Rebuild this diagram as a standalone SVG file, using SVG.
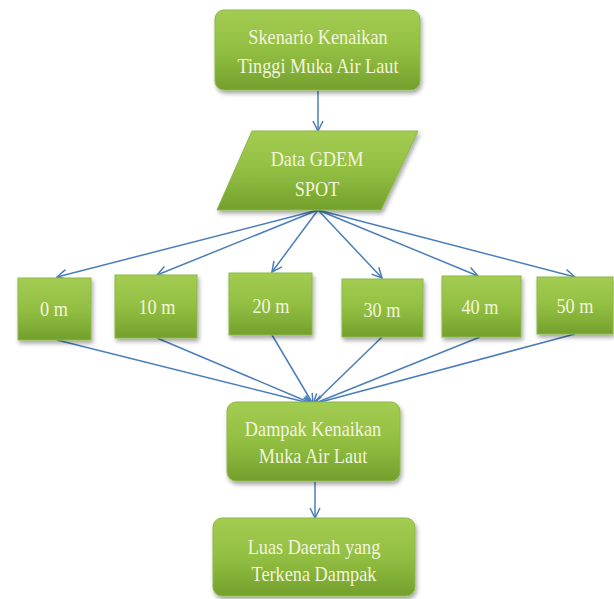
<svg xmlns="http://www.w3.org/2000/svg" width="614" height="599" viewBox="0 0 614 599">
<style>
.box{fill:url(#g);stroke:#8cb846;stroke-width:1;filter:url(#sh)}
.t{fill:#f4f4dc;text-anchor:middle}
.c{stroke:#4a7ebb;stroke-width:1.5;fill:none;marker-end:url(#ah)}
</style>
<defs>
<linearGradient id="g" x1="0" y1="0" x2="0" y2="1">
<stop offset="0" stop-color="#a3cc52"/>
<stop offset="0.5" stop-color="#92bf42"/>
<stop offset="1" stop-color="#73a02c"/>
</linearGradient>
<filter id="sh" x="-10%" y="-10%" width="125%" height="130%">
<feDropShadow dx="1.5" dy="3" stdDeviation="2" flood-color="#000" flood-opacity="0.35"/>
</filter>
<marker id="ah" viewBox="0 0 12 12" refX="11" refY="6" markerWidth="12" markerHeight="12" markerUnits="userSpaceOnUse" orient="auto">
<path d="M1,1 L11,6 L1,11" fill="none" stroke="#4a7ebb" stroke-width="1.5"/>
</marker>
</defs>
<rect width="614" height="599" fill="#fff"/>
<g id="connectors">
<line class="c" x1="318" y1="91" x2="318" y2="131"/>
<line class="c" x1="318" y1="210" x2="57" y2="277"/>
<line class="c" x1="318" y1="210" x2="157" y2="275"/>
<line class="c" x1="318" y1="210" x2="272" y2="272"/>
<line class="c" x1="318" y1="210" x2="382" y2="278"/>
<line class="c" x1="318" y1="210" x2="478" y2="276"/>
<line class="c" x1="318" y1="210" x2="575" y2="277"/>
<line class="c" x1="57" y1="340" x2="313" y2="404"/>
<line class="c" x1="157" y1="338" x2="313" y2="404"/>
<line class="c" x1="272" y1="335" x2="313" y2="404"/>
<line class="c" x1="382" y1="337" x2="313" y2="404"/>
<line class="c" x1="480" y1="337" x2="313" y2="404"/>
<line class="c" x1="575" y1="334" x2="313" y2="404"/>
<line class="c" x1="315" y1="482" x2="315" y2="518"/>
</g>
<g font-family="'Liberation Serif', 'Times New Roman', serif" font-size="22">
<g id="skenario">
<rect class="box" x="215" y="10" width="205" height="80" rx="9"/>
<text class="t" transform="translate(318,44) scale(0.83,1)">Skenario Kenaikan</text>
<text class="t" transform="translate(318,73) scale(0.83,1)">Tinggi Muka Air Laut</text>
</g>
<g id="data">
<polygon class="box" points="252,131 418,131 381,210 217,210"/>
<text class="t" transform="translate(317,166) scale(0.83,1)">Data GDEM</text>
<text class="t" transform="translate(317,196) scale(0.83,1)">SPOT</text>
</g>
<g id="m0">
<rect class="box" x="18" y="278" width="73" height="62"/>
<text class="t" transform="translate(54,316) scale(0.83,1)">0 m</text>
</g>
<g id="m10">
<rect class="box" x="115" y="275" width="82" height="63"/>
<text class="t" transform="translate(157,314) scale(0.83,1)">10 m</text>
</g>
<g id="m20">
<rect class="box" x="229" y="273" width="83" height="62"/>
<text class="t" transform="translate(271,313) scale(0.83,1)">20 m</text>
</g>
<g id="m30">
<rect class="box" x="342" y="279" width="81" height="58"/>
<text class="t" transform="translate(382,317) scale(0.83,1)">30 m</text>
</g>
<g id="m40">
<rect class="box" x="442" y="276" width="79" height="61"/>
<text class="t" transform="translate(480,314) scale(0.83,1)">40 m</text>
</g>
<g id="m50">
<rect class="box" x="537" y="277" width="76" height="57"/>
<text class="t" transform="translate(575,313) scale(0.83,1)">50 m</text>
</g>
<g id="dampak">
<rect class="box" x="227" y="402" width="173" height="79" rx="9"/>
<text class="t" transform="translate(313,436) scale(0.83,1)">Dampak Kenaikan</text>
<text class="t" transform="translate(313,463) scale(0.83,1)">Muka Air Laut</text>
</g>
<g id="luas">
<rect class="box" x="213" y="518" width="202" height="78" rx="9"/>
<text class="t" transform="translate(314,554) scale(0.83,1)">Luas Daerah yang</text>
<text class="t" transform="translate(314,581) scale(0.83,1)">Terkena Dampak</text>
</g>
</g>
</svg>
